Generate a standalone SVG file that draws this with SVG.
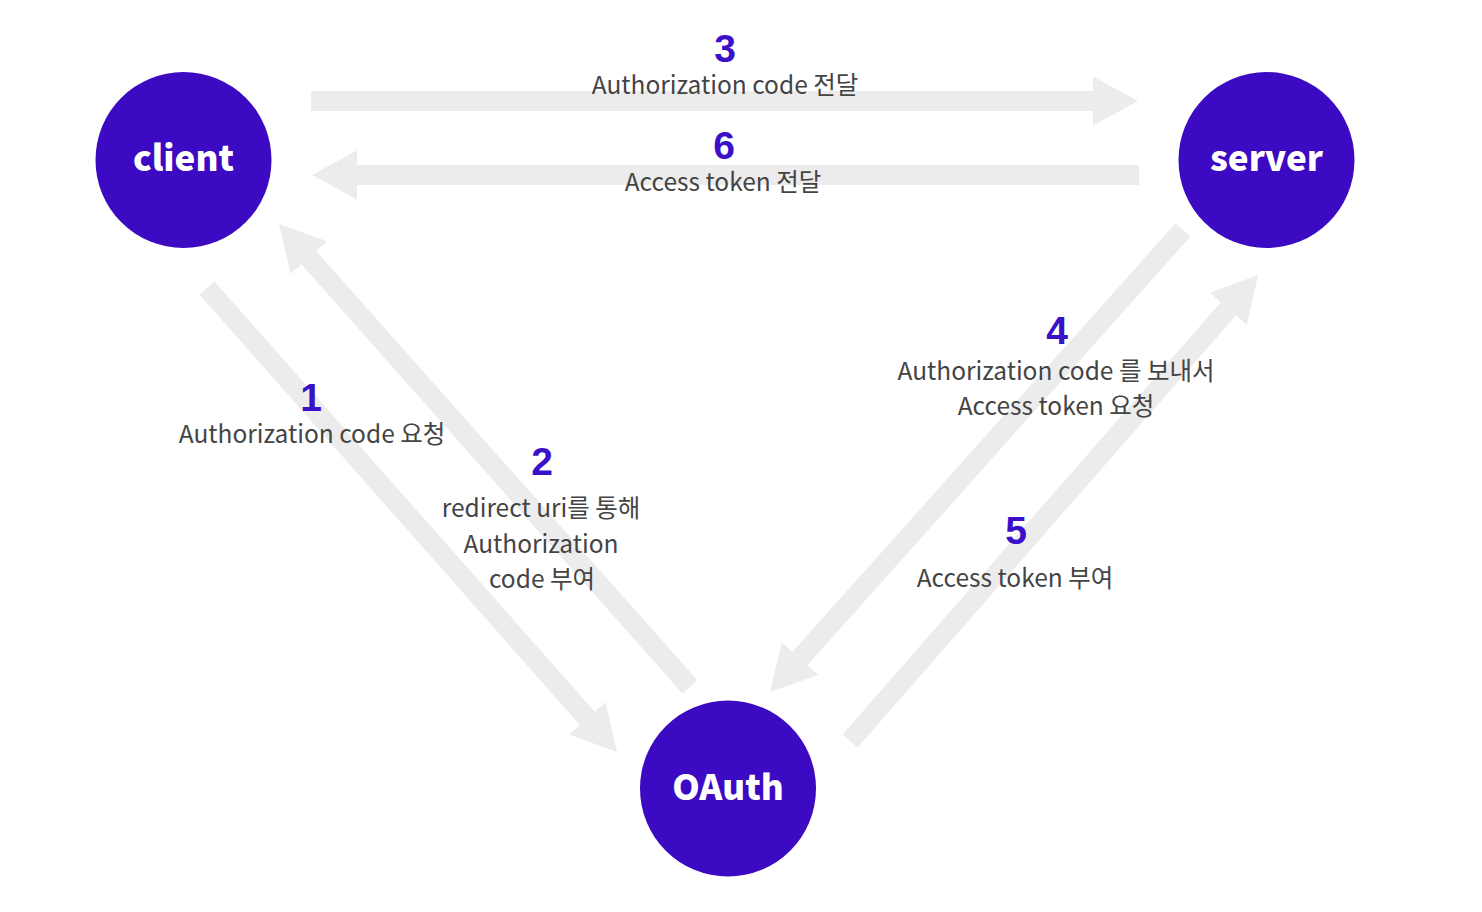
<svg xmlns="http://www.w3.org/2000/svg" width="1482" height="912" viewBox="0 0 1482 912">
<style>
.node{fill:#3c0ac2}
.nlabel{font-family:"Noto Sans CJK KR","Noto Sans",sans-serif;font-weight:900;font-size:35px;fill:#ffffff;text-anchor:middle}
.num{font-family:"Liberation Sans",Arial,sans-serif;font-weight:bold;font-size:39px;fill:#3b10c9;text-anchor:middle}
.lbl{font-family:"Noto Sans CJK KR","Noto Sans",sans-serif;font-size:24.5px;fill:#444444;text-anchor:middle}
.conn{stroke:#ececec;stroke-width:20;fill:none;marker-end:url(#ah)}
</style>
<defs>
<marker id="ah" markerUnits="userSpaceOnUse" markerWidth="46" markerHeight="50" refX="0" refY="25" orient="auto" viewBox="0 0 46 50">
<path d="M0,0.5 L45,25 L0,49.5 Z" fill="#ececec"/>
</marker>
</defs>
<rect width="1482" height="912" fill="#ffffff"/>
<g id="connectors">
<line class="conn" x1="311" y1="101" x2="1093" y2="101"/>
<line class="conn" x1="1139" y1="175" x2="357" y2="175"/>
<line class="conn" x1="207" y1="288" x2="587.2" y2="718.3"/>
<line class="conn" x1="690" y1="687" x2="308.9" y2="257.7"/>
<line class="conn" x1="1183" y1="230" x2="800" y2="658.5"/>
<line class="conn" x1="850" y1="741" x2="1228.4" y2="308.9"/>
</g>
<g id="labels">
<text class="num" x="725" y="62">3</text>
<text class="lbl" x="725" y="94">Authorization code 전달</text>
<text class="num" x="724" y="159">6</text>
<text class="lbl" x="723" y="191">Access token 전달</text>
<text class="num" x="311" y="411">1</text>
<text class="lbl" x="312" y="443">Authorization code 요청</text>
<text class="num" x="542" y="475">2</text>
<text class="lbl" x="541" y="517">redirect uri를 통해</text>
<text class="lbl" x="541" y="553">Authorization</text>
<text class="lbl" x="542" y="588">code 부여</text>
<text class="num" x="1057" y="344">4</text>
<text class="lbl" x="1056" y="380">Authorization code 를 보내서</text>
<text class="lbl" x="1056" y="415">Access token 요청</text>
<text class="num" x="1016" y="544">5</text>
<text class="lbl" x="1015" y="587">Access token 부여</text>
</g>
<g id="client">
<circle class="node" cx="183.5" cy="160" r="88"/>
<text class="nlabel" x="183.5" y="171">client</text>
</g>
<g id="server">
<circle class="node" cx="1266.5" cy="160" r="88"/>
<text class="nlabel" x="1266.5" y="171">server</text>
</g>
<g id="oauth">
<circle class="node" cx="728" cy="788.5" r="88"/>
<text class="nlabel" x="728" y="800">OAuth</text>
</g>
</svg>
